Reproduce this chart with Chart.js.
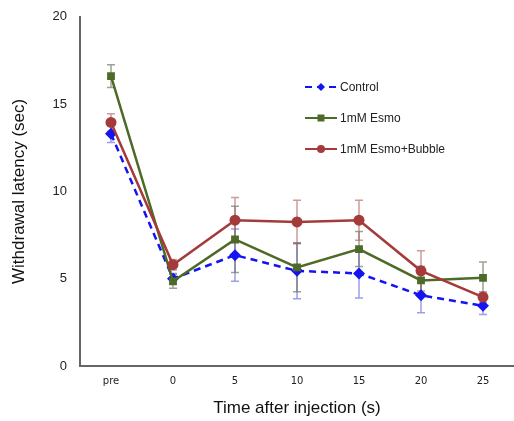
<!DOCTYPE html>
<html><head><meta charset="utf-8">
<script src="https://cdn.jsdelivr.net/npm/chart.js@4/dist/chart.umd.min.js"></script>
<style>html,body{margin:0;padding:0;background:#fff}#wrap{width:514px;height:421px}</style>
</head><body><div id="wrap"><canvas id="c"></canvas></div>
<script>
const categories = ['pre','0','5','10','15','20','25'];
const controlValues = [13.3, 5.0, 6.35, 5.45, 5.3, 4.05, 3.45];
const controlErrors = [0.5, 0.3, 1.5, 1.6, 1.4, 1.0, 0.5];
const esmoValues = [16.6, 4.85, 7.25, 5.65, 6.7, 4.9, 5.05];
const esmoErrors = [0.65, 0.4, 1.9, 1.4, 1.0, 0.8, 0.9];
const bubbleValues = [13.95, 5.8, 8.35, 8.25, 8.35, 5.45, 3.95];
const bubbleErrors = [0.5, 0.3, 1.3, 1.25, 1.15, 1.15, 0.3];
const yTicks = [0, 5, 10, 15, 20];
const seriesNames = ['Control', '1mM Esmo', '1mM Esmo+Bubble'];

const BLUE = '#1414f0', GREEN = '#4d6a27', RED = '#a53a3a';
const errColors = ['rgba(60,60,220,0.5)', 'rgba(90,100,80,0.6)', 'rgba(170,90,90,0.6)'];
const errorSets = [controlErrors, esmoErrors, bubbleErrors];

const errorBars = {
  id: 'errorBars',
  beforeDatasetsDraw(chart) {
    const ctx = chart.ctx, y = chart.scales.y;
    chart.data.datasets.forEach((ds, i) => {
      const meta = chart.getDatasetMeta(i);
      ctx.save();
      ctx.strokeStyle = errColors[i];
      ctx.lineWidth = 1.5;
      meta.data.forEach((pt, j) => {
        const v = ds.data[j], e = errorSets[i][j];
        const yt = y.getPixelForValue(v + e), yb = y.getPixelForValue(v - e);
        ctx.beginPath();
        ctx.moveTo(pt.x, yt); ctx.lineTo(pt.x, yb);
        ctx.moveTo(pt.x - 4, yt); ctx.lineTo(pt.x + 4, yt);
        ctx.moveTo(pt.x - 4, yb); ctx.lineTo(pt.x + 4, yb);
        ctx.stroke();
      });
      ctx.restore();
    });
  }
};

const customLegend = {
  id: 'customLegend',
  afterDraw(chart) {
    const ctx = chart.ctx;
    const x0 = 305, ys = [87, 118, 149];
    chart.data.datasets.forEach((ds, i) => {
      const yy = ys[i];
      ctx.save();
      ctx.strokeStyle = ds.borderColor;
      ctx.lineWidth = 2;
      ctx.setLineDash(ds.borderDash || []);
      ctx.beginPath(); ctx.moveTo(x0, yy); ctx.lineTo(x0 + 32, yy); ctx.stroke();
      ctx.setLineDash([]);
      ctx.fillStyle = ds.borderColor;
      const cx = x0 + 16;
      ctx.beginPath();
      if (ds.pointStyle === 'rectRot') {
        ctx.moveTo(cx, yy - 4); ctx.lineTo(cx + 4, yy); ctx.lineTo(cx, yy + 4); ctx.lineTo(cx - 4, yy);
        ctx.closePath();
      } else if (ds.pointStyle === 'rect') {
        ctx.rect(cx - 3.5, yy - 3.5, 7, 7);
      } else {
        ctx.arc(cx, yy, 4, 0, Math.PI * 2);
      }
      ctx.fill();
      ctx.fillStyle = '#222';
      ctx.font = '12px "Liberation Sans", Arial, sans-serif';
      ctx.textBaseline = 'middle';
      ctx.fillText(ds.label, x0 + 35, yy + 1);
      ctx.restore();
    });
  }
};

new Chart(document.getElementById('c'), {
  type: 'line',
  data: {
    labels: categories,
    datasets: [
      { label: seriesNames[0], data: controlValues, borderColor: BLUE, backgroundColor: BLUE,
        borderWidth: 2.5, borderDash: [7, 5], pointStyle: 'rectRot', pointRadius: 6, pointBorderWidth: 0, order: 3 },
      { label: seriesNames[1], data: esmoValues, borderColor: GREEN, backgroundColor: GREEN,
        borderWidth: 2.5, pointStyle: 'rect', pointRadius: 5.5, pointBorderWidth: 0, order: 2 },
      { label: seriesNames[2], data: bubbleValues, borderColor: RED, backgroundColor: RED,
        borderWidth: 2.5, pointStyle: 'circle', pointRadius: 5.5, pointBorderWidth: 0, order: 1 }
    ]
  },
  options: {
    responsive: true, maintainAspectRatio: false, animation: false,
    layout: { autoPadding: false, padding: { top: 14, right: 0, left: 0, bottom: 0 } },
    plugins: { legend: { display: false }, tooltip: { enabled: false } },
    scales: {
      x: {
        type: 'category', offset: true,
        grid: { display: false, drawTicks: false },
        border: { color: '#666', width: 2 },
        ticks: { color: '#222', padding: 9, font: { size: 10, family: '"DejaVu Sans", sans-serif' } },
        title: { display: true, text: 'Time after injection (s)', color: '#111',
          font: { size: 17, family: '"Liberation Sans", Arial, sans-serif' }, padding: { top: 0, bottom: 2 } },
        afterFit(s) { s.height = 55; s.paddingRight = 0; s.paddingLeft = 0; }
      },
      y: {
        min: 0, max: 20,
        afterBuildTicks(s) { s.ticks = yTicks.map(v => ({ value: v })); },
        grid: { display: false, drawOnChartArea: false, drawTicks: true, tickLength: 4, tickColor: '#666' },
        border: { color: '#666', width: 2 },
        ticks: { color: '#222', padding: 9, font: { size: 13, family: '"Liberation Sans", Arial, sans-serif' } },
        title: { display: true, text: 'Withdrawal latency (sec)', color: '#111',
          font: { size: 17, family: '"Liberation Sans", Arial, sans-serif' }, padding: { top: 9, bottom: 0 } },
        afterFit(s) { s.width = 80; }
      }
    }
  },
  plugins: [errorBars, customLegend]
});
</script></body></html>
